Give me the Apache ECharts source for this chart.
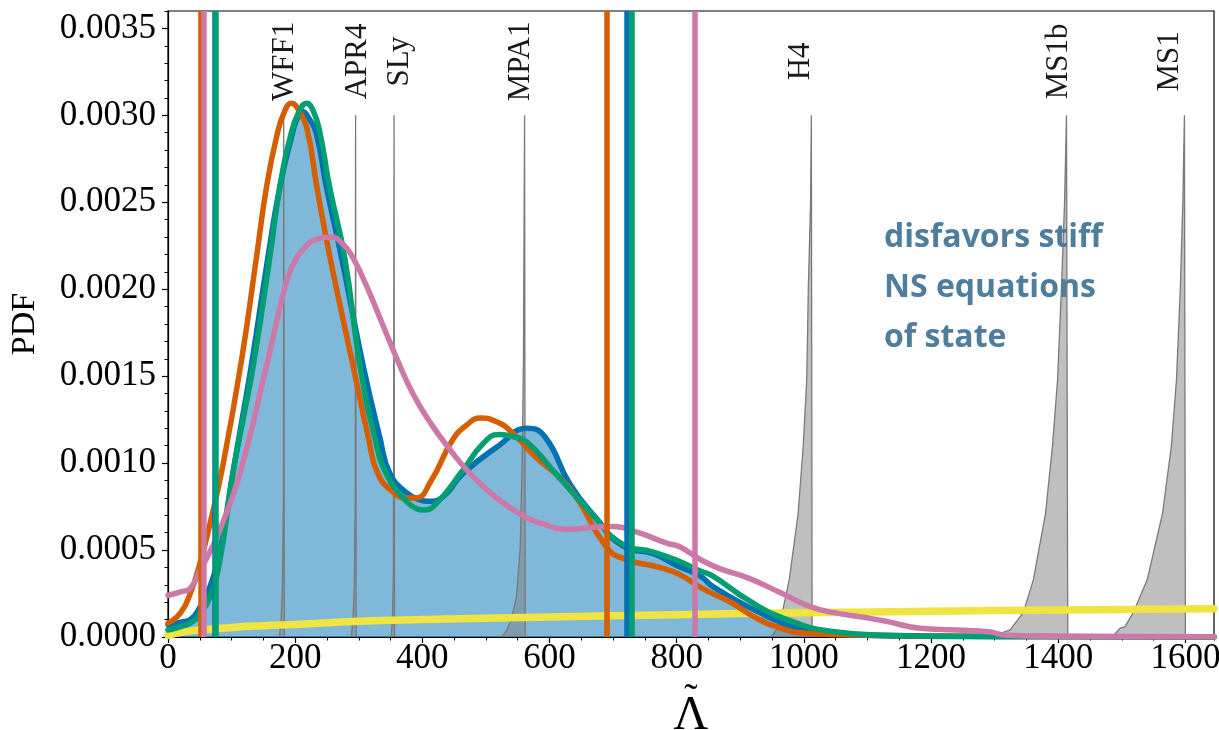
<!DOCTYPE html>
<html>
<head>
<meta charset="utf-8">
<script src="https://cdn.jsdelivr.net/npm/echarts@6/dist/echarts.min.js"></script>
<style>html,body{margin:0;padding:0;background:#fff}#chart{width:1219px;height:730px}</style>
</head>
<body>
<div id="chart"></div>
<script>
// ---------------- data ----------------
const xMax = 1645;
const yMax = 0.0036;
const xTickStep = 200;
const yTickStep = 0.0005;

const blueX = [0, 20, 35, 50, 66, 82, 100, 115, 131, 157, 176, 196, 204, 212, 222, 233, 249, 273, 307, 333, 349, 375, 395, 410, 430, 464, 520, 565, 593, 632, 672, 717, 762, 801, 837, 857, 912, 966, 1000, 1050, 1150, 1300, 1645];
const blueY = [0.00007, 0.000085, 0.0001, 0.00017, 0.00029, 0.0005, 0.0009, 0.00122, 0.00156, 0.00218, 0.00259, 0.0029, 0.00299, 0.00302, 0.00298, 0.0029, 0.00259, 0.00218, 0.00156, 0.00115, 0.00094, 0.00083, 0.00079, 0.00078, 0.0008, 0.00094, 0.0011, 0.0012, 0.00115, 0.00088, 0.00069, 0.00052, 0.00048, 0.00041, 0.00035, 0.00029, 0.000175, 0.00008, 0.00004, 0.00002, 0.000005, 0.000002, 0];

const greenX = [0, 20, 35, 50, 66, 82, 102, 118, 134, 160, 176, 194, 206, 218, 229, 239, 254, 278, 302, 325, 343, 370, 385, 402, 420, 464, 495, 520, 545, 565, 605, 661, 717, 762, 801, 837, 857, 912, 966, 1048, 1130, 1300, 1645];
const greenY = [0.00004, 0.00006, 0.00008, 0.00013, 0.00023, 0.00045, 0.00094, 0.00125, 0.00156, 0.00218, 0.00259, 0.0029, 0.00302, 0.00307, 0.00302, 0.0029, 0.00259, 0.00218, 0.00156, 0.00115, 0.00094, 0.0008, 0.00075, 0.00073, 0.00076, 0.00096, 0.00111, 0.001164, 0.00115, 0.00112, 0.00096, 0.00073, 0.00053, 0.00049, 0.00044, 0.00038, 0.00035, 0.000213, 0.00011, 0.00003, 0.00001, 0.000003, 0];

const orangeX = [0, 20, 35, 50, 66, 87, 116, 139, 155, 171, 183, 194, 207, 220, 234, 255, 291, 315, 330, 355, 374, 390, 414, 447, 470, 492, 515, 537, 577, 633, 689, 717, 773, 804, 840, 885, 920, 956, 1010, 1100, 1250, 1645];
const orangeY = [0.00008, 0.00014, 0.00025, 0.00042, 0.00065, 0.001, 0.0016, 0.00218, 0.00259, 0.00288, 0.00302, 0.00307, 0.00302, 0.0029, 0.00259, 0.00218, 0.00156, 0.00115, 0.00094, 0.00083, 0.0008, 0.0008, 0.0009, 0.00113, 0.00122, 0.00126, 0.00124, 0.00119, 0.00104, 0.00085, 0.00052, 0.00045, 0.0004, 0.00036, 0.00028, 0.0002, 0.00012, 0.00006, 0.00002, 0.00001, 0.000005, 0];

const pinkX = [0, 20, 35, 50, 66, 82, 113, 155, 181, 194, 215, 235, 255, 275, 291, 312, 335, 360, 385, 413, 445, 475, 510, 548, 590, 632, 665, 700, 740, 784, 804, 840, 870, 912, 966, 1010, 1048, 1100, 1130, 1183, 1240, 1291, 1318, 1400, 1645];
const pinkY = [0.00024, 0.00026, 0.00028, 0.00038, 0.00049, 0.00062, 0.00094, 0.00156, 0.00197, 0.00212, 0.00224, 0.00229, 0.0023, 0.00226, 0.00218, 0.00202, 0.00182, 0.0016, 0.0014, 0.00123, 0.00107, 0.00094, 0.00082, 0.00072, 0.00065, 0.00062, 0.00063, 0.000635, 0.0006, 0.00054, 0.00052, 0.00044, 0.00039, 0.00034, 0.00025, 0.000175, 0.00014, 0.00011, 0.00009, 0.00005, 0.00004, 0.00003, 0.00001, 0.000004, 0.000002];

const yellowX = [0, 25, 50, 100, 150, 200, 300, 400, 600, 800, 1000, 1200, 1400, 1645];
const yellowY = [0.00001, 0.00003, 0.00004, 0.000055, 0.000065, 0.000072, 0.00009, 0.0001, 0.000115, 0.000128, 0.00014, 0.000148, 0.000155, 0.000162];

// 90% bounds (vertical lines)
const blueBounds = [73, 721.5];
const orangeBounds = [51, 690];
const greenBounds = [75, 729.5];
const pinkBounds = [55.5, 829];

// EOS predictions (grey spikes)
const eosNames = ['WFF1', 'APR4', 'SLy', 'MPA1', 'H4', 'MS1b', 'MS1'];
const eosX = [
  [175, 178, 180, 181.5, 182, 183, 183],
  [288, 291, 293, 294.5, 295, 296, 296],
  [351, 353, 354.5, 355.5, 356.3, 356.3],
  [525, 533, 540, 548, 554, 557, 559, 560, 560.8, 561.8, 561.8],
  [948, 955, 966, 977, 991, 999, 1004.5, 1007, 1010.5, 1011.8, 1013, 1013],
  [1300, 1308, 1315, 1324, 1345, 1361, 1380, 1391, 1399, 1405, 1410, 1413, 1415, 1415],
  [1484, 1490, 1497, 1505, 1518, 1540, 1564, 1578, 1586, 1592, 1596, 1598.5, 1600, 1600]
];
const eosY = [
  [0, 0.0001, 0.0003, 0.0008, 0.003, 0.003, 0],
  [0, 0.0001, 0.0003, 0.0008, 0.003, 0.003, 0],
  [0, 0.0001, 0.0004, 0.003, 0.003, 0],
  [0, 0.00004, 0.0001, 0.00023, 0.00052, 0.001, 0.0016, 0.0024, 0.003, 0.003, 0],
  [0, 0.00003, 0.00014, 0.00033, 0.00071, 0.0011, 0.00148, 0.002, 0.0025, 0.003, 0.003, 0],
  [0, 0.00001, 0.00003, 0.00004, 0.00014, 0.00033, 0.00071, 0.0011, 0.00148, 0.002, 0.0025, 0.003, 0.003, 0],
  [0, 0.00002, 0.00005, 0.00006, 0.00014, 0.00033, 0.00071, 0.0011, 0.00148, 0.002, 0.0025, 0.003, 0.003, 0]
];
const eosLabelX = [184, 298.5, 364.4, 554.3, 996, 1401, 1575.5];
const eosLabelY = [0.00331, 0.00331, 0.00331, 0.00331, 0.00331, 0.00331, 0.00331];

const noteText = 'disfavors stiff\nNS equations\nof state';

// ---------------- chart ----------------
const zip = (xs, ys) => xs.map((x, i) => [x, ys[i]]);
const SERIF = 'Liberation Serif';
const C = { blue: '#0072B2', orange: '#D55E00', green: '#009E73', pink: '#CC79A7', yellow: '#F0E442' };
const SMOOTH = 0.5;

function vlines(vals, color) {
  return {
    symbol: 'none', silent: true, animation: false,
    label: { show: false },
    lineStyle: { color: color, width: 5.5, type: 'solid', opacity: 1 },
    emphasis: { disabled: true },
    data: vals.map(v => ({ xAxis: v }))
  };
}
function curve(name, xs, ys, color, bounds) {
  return {
    name, type: 'line', data: zip(xs, ys), smooth: SMOOTH,
    showSymbol: false, symbol: 'none', animation: false,
    lineStyle: { color, width: 5.5, cap: 'round', join: 'round' },
    markLine: bounds ? vlines(bounds, color) : undefined
  };
}

const series = [];
series.push({
  name: 'blueFill', type: 'line', data: zip(blueX, blueY), smooth: SMOOTH,
  showSymbol: false, symbol: 'none', animation: false,
  lineStyle: { opacity: 0, width: 0 },
  areaStyle: { color: 'rgba(0,114,178,0.5)', opacity: 1 }
});
eosNames.forEach((n, i) => {
  series.push({
    name: n, type: 'line', data: zip(eosX[i], eosY[i]), smooth: false,
    showSymbol: false, symbol: 'none', animation: false,
    lineStyle: { color: '#7a7a7a', width: 1.3 },
    areaStyle: { color: 'rgba(128,128,128,0.5)', opacity: 1 }
  });
});
series.push(curve('yellow', yellowX, yellowY, C.yellow, null));
series[series.length - 1].lineStyle.width = 7.5;
series.push(curve('blue', blueX, blueY, C.blue, blueBounds));
series.push(curve('orange', orangeX, orangeY, C.orange, orangeBounds));
series.push(curve('green', greenX, greenY, C.green, greenBounds));
series.push(curve('pink', pinkX, pinkY, C.pink, pinkBounds));
series.push({
  type: 'custom', silent: true, animation: false, z: 10,
  data: eosNames.map((n, i) => [eosLabelX[i], eosLabelY[i]]),
  renderItem: function (params, api) {
    const p = api.coord([api.value(0), api.value(1)]);
    return {
      type: 'text', x: p[0], y: p[1], rotation: Math.PI / 2,
      style: {
        text: eosNames[params.dataIndex],
        font: '31px "Liberation Serif"', fill: '#1a1a1a',
        align: 'center', verticalAlign: 'middle', textAlign: 'center', textVerticalAlign: 'middle'
      }
    };
  }
});

const chart = echarts.init(document.getElementById('chart'), null, { renderer: 'canvas' });
chart.setOption({
  animation: false,
  backgroundColor: '#ffffff',
  grid: { left: 168, right: 5, top: 11, bottom: 93, containLabel: false, outerBoundsMode: 'none', show: true, borderColor: '#000', borderWidth: 1.2, backgroundColor: 'transparent' },
  xAxis: [
    {
      type: 'value', min: 0, max: xMax, interval: xTickStep, position: 'bottom',
      name: '{t|˜}\n{l|Λ}', nameLocation: 'middle', nameGap: 22,
      nameTextStyle: {
        fontFamily: SERIF, color: '#000',
        rich: {
          t: { fontFamily: SERIF, fontSize: 40, lineHeight: 4, color: '#000' },
          l: { fontFamily: SERIF, fontSize: 48, lineHeight: 26, color: '#000' }
        }
      },
      axisLine: { show: true, lineStyle: { color: '#000', width: 1.2 } },
      axisTick: { show: true, length: 6, inside: false, lineStyle: { color: '#000', width: 1.2 } },
      axisLabel: { show: true, showMaxLabel: false, margin: 4, fontFamily: SERIF, fontSize: 35, color: '#000', formatter: v => String(v) },
      splitLine: { show: false }
    },
    {
      type: 'value', min: 0, max: xMax, interval: 50, position: 'bottom',
      axisLine: { show: false },
      axisTick: { show: true, length: 3.5, lineStyle: { color: '#000', width: 1 } },
      axisLabel: { show: false }, splitLine: { show: false }
    }
  ],
  yAxis: [
    {
      type: 'value', min: 0, max: yMax, interval: yTickStep, position: 'left',
      name: 'PDF', nameLocation: 'middle', nameGap: 126,
      nameTextStyle: { fontFamily: SERIF, fontSize: 34, color: '#000' },
      axisLine: { show: true, lineStyle: { color: '#000', width: 1.2 } },
      axisTick: { show: true, length: 6, lineStyle: { color: '#000', width: 1.2 } },
      axisLabel: { show: true, showMaxLabel: false, margin: 12, fontFamily: SERIF, fontSize: 35, color: '#000', formatter: v => v.toFixed(4) },
      splitLine: { show: false }
    },
    {
      type: 'value', min: 0, max: yMax, interval: 0.0001, position: 'left',
      axisLine: { show: false },
      axisTick: { show: true, length: 3.5, lineStyle: { color: '#000', width: 1 } },
      axisLabel: { show: false }, splitLine: { show: false }
    }
  ],
  graphic: [{
    type: 'text', left: 884, top: 213, z: 100,
    style: { text: noteText, fontFamily: 'Open Sans, Noto Sans, sans-serif', fontWeight: 'bold', fontSize: 32, lineHeight: 50, fill: '#4e7d9d' }
  }],
  series: series
});
</script>
</body>
</html>
